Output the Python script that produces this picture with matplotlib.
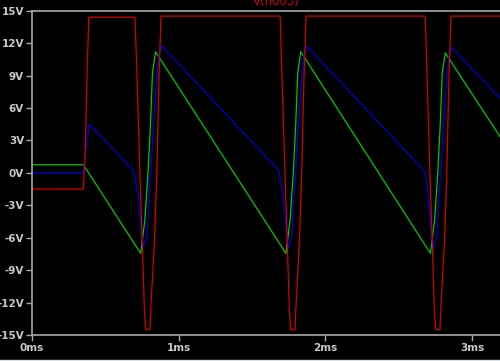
import matplotlib
matplotlib.use("Agg")
import matplotlib.pyplot as plt
from matplotlib.lines import Line2D

# V(n003) - red trace (ms, V)
red_t = [0.0, 0.350, 0.363, 0.373, 0.387,
         0.702, 0.716, 0.736, 0.752, 0.766, 0.775, 0.804, 0.809, 0.834, 0.850, 0.866, 0.879,
         1.691, 1.704, 1.725, 1.740, 1.754, 1.763, 1.793, 1.798, 1.822, 1.838, 1.854, 1.868,
         2.680, 2.693, 2.713, 2.729, 2.742, 2.752, 2.781, 2.786, 2.811, 2.827, 2.842, 2.856,
         3.190]
red_v = [-1.5, -1.5, 2.0, 8.0, 14.4,
         14.4, 8.9, -0.35, -6.5, -12.7, -14.5, -14.5, -12.7, -6.5, -0.35, 8.9, 14.5,
         14.5, 8.9, -0.35, -6.5, -12.7, -14.5, -14.5, -12.7, -6.5, -0.35, 8.9, 14.5,
         14.5, 8.9, -0.35, -6.5, -12.7, -14.5, -14.5, -12.7, -6.5, -0.35, 8.9, 14.5,
         14.5]

# green trace
green_t = [0.0, 0.350,
           0.741, 0.769, 0.791, 0.808, 0.821, 0.842,
           1.731, 1.759, 1.781, 1.798, 1.811, 1.832,
           2.716, 2.744, 2.766, 2.783, 2.796, 2.817,
           3.190]
green_v = [0.75, 0.75,
           -7.45, -4.4, 0.0, 4.6, 9.2, 11.2,
           -7.45, -4.4, 0.0, 4.6, 9.2, 11.2,
           -7.45, -4.4, 0.0, 4.6, 9.2, 11.1,
           3.35]

# blue trace
blue_t = [0.0, 0.346, 0.355, 0.391,
          0.693, 0.725, 0.736, 0.748, 0.759, 0.782, 0.798, 0.816, 0.834, 0.850, 0.868, 0.884,
          1.684, 1.713, 1.725, 1.736, 1.747, 1.770, 1.786, 1.804, 1.822, 1.838, 1.856, 1.873,
          2.680, 2.701, 2.713, 2.725, 2.736, 2.759, 2.774, 2.793, 2.811, 2.827, 2.845, 2.861,
          3.190]
blue_v = [0.0, 0.0, 0.8, 4.5,
          0.2, -2.2, -4.1, -5.9, -6.9, -5.9, -2.2, 1.5, 5.8, 8.9, 11.1, 11.75,
          0.2, -2.2, -4.1, -5.9, -6.9, -5.9, -2.2, 1.5, 5.8, 8.9, 11.1, 11.7,
          0.1, -2.2, -4.1, -5.9, -7.0, -5.9, -2.2, 1.5, 5.8, 8.9, 11.1, 11.6,
          6.9]

y_ticks = list(range(-15, 16, 3))
x_ticks = [0, 1, 2, 3]

W, H = 500, 361
fig = plt.figure(figsize=(W / 100, H / 100), dpi=100, facecolor="black")
ax = fig.add_axes([32 / W, 1 - 335 / H, 1 - 32 / W, (335 - 10.7) / H])
ax.set_facecolor("black")

ax.plot(green_t, green_v, color="#00c800", lw=0.9)
ax.plot(blue_t, blue_v, color="#0000d2", lw=0.9)
ax.plot(red_t, red_v, color="#d20000", lw=0.9)

ax.set_xlim(0, 3.19)
ax.set_ylim(-15, 15)
ax.set_yticks(y_ticks)
ax.set_yticklabels([f"{v}V" for v in y_ticks])
ax.set_xticks(x_ticks)
ax.set_xticklabels([f"{v}ms" for v in x_ticks])

spine_col = "#a8a8a8"
for side in ("left", "bottom", "top"):
    ax.spines[side].set_color(spine_col)
    ax.spines[side].set_linewidth(1.2)
ax.spines["right"].set_visible(False)
ax.tick_params(colors=spine_col, labelcolor="#c8c8c8", length=4.5, width=1.0,
               labelsize=7.5, pad=1.2)
for lab in ax.get_xticklabels() + ax.get_yticklabels():
    lab.set_fontweight("bold")

fig.text(276 / W, 1 - 7.5 / H, "V(n003)", color="#d20000", fontsize=8.5,
         ha="center", va="bottom")
fig.add_artist(Line2D([0, 1], [1 - 359.5 / H] * 2, color="#d8e0e8", lw=1.0,
                      transform=fig.transFigure))

fig.savefig("out.png", dpi=100, facecolor="black")
